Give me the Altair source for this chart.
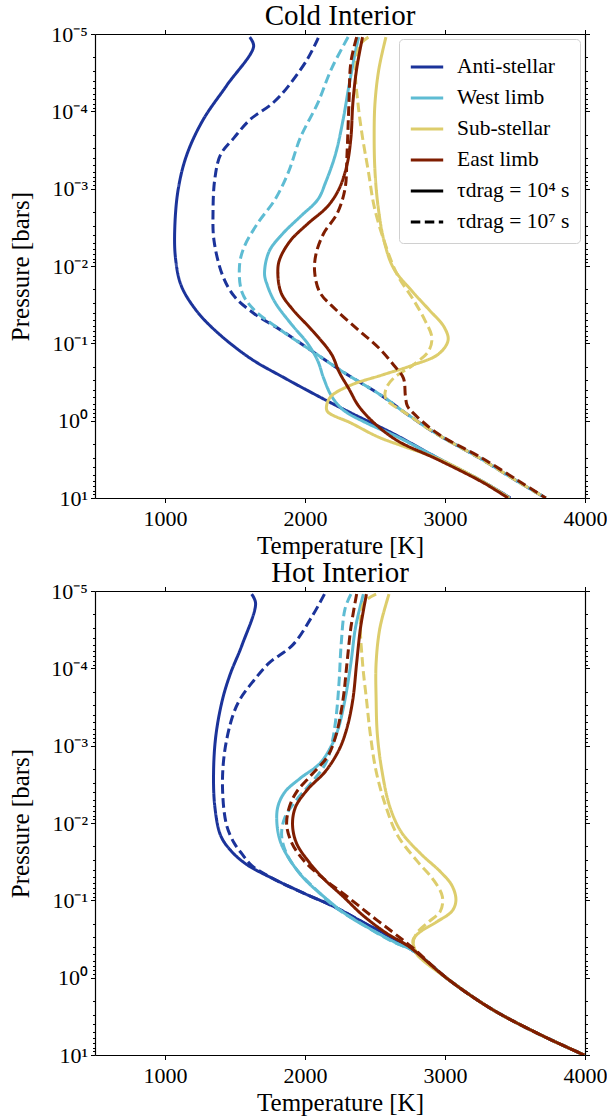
import altair as alt
import pandas as pd

REGIONS = ["Anti-stellar", "West limb", "Sub-stellar", "East limb"]
COLORS = ["#1b339a", "#5ebcd3", "#ddcd6c", "#7f1d00"]
TAU4 = "τdrag = 10⁴ s"
TAU7 = "τdrag = 10⁷ s"
DASHED_KEYS = [r + " (10⁷ s)" for r in REGIONS]

# ---------------- Cold interior (temperature K, log10 pressure bars) ----------------
cold_anti_solid_T = [1605, 1633, 1439, 1272, 1156, 1095, 1070, 1075, 1115, 1217, 1356, 1606, 1856, 2133, 2328, 2633, 2945, 3272, 3467]
cold_anti_solid_logp = [-4.96, -4.84, -4.33, -3.89, -3.44, -3.0, -2.5, -2.10, -1.75, -1.44, -1.17, -0.81, -0.55, -0.28, -0.10, 0.17, 0.48, 0.79, 1.0]
cold_anti_dash_T = [2095, 2022, 1883, 1772, 1606, 1494, 1397, 1356, 1343, 1350, 1411, 1494, 1633, 1828, 2050, 2272, 2550, 2717, 2939, 3244, 3522, 3720]
cold_anti_dash_logp = [-4.95, -4.69, -4.33, -4.11, -3.89, -3.66, -3.44, -3.13, -2.70, -2.33, -1.88, -1.61, -1.39, -1.17, -0.90, -0.63, -0.32, -0.10, 0.17, 0.48, 0.79, 1.0]

cold_west_solid_T = [2383, 2361, 2314, 2272, 2217, 2147, 2092, 1967, 1842, 1744, 1711, 1731, 1786, 1897, 2022, 2092, 2133, 2189, 2272, 2439, 2661, 2945, 3272, 3460]
cold_west_solid_logp = [-4.96, -4.78, -4.33, -3.89, -3.44, -3.08, -2.86, -2.64, -2.42, -2.19, -1.90, -1.75, -1.53, -1.26, -0.99, -0.77, -0.55, -0.32, -0.14, 0.03, 0.21, 0.48, 0.79, 1.0]
cold_west_dash_T = [2308, 2189, 2092, 1967, 1883, 1786, 1661, 1564, 1532, 1550, 1633, 1828, 2050, 2272, 2550, 2717, 2939, 3244, 3522, 3720]
cold_west_dash_logp = [-4.96, -4.55, -4.11, -3.66, -3.22, -2.86, -2.55, -2.24, -2.00, -1.66, -1.44, -1.17, -0.90, -0.63, -0.32, -0.10, 0.17, 0.48, 0.79, 1.0]

cold_sub_solid_T = [2578, 2528, 2500, 2494, 2500, 2522, 2564, 2633, 2772, 2883, 2994, 3022, 2953, 2772, 2550, 2328, 2189, 2156, 2160, 2328, 2522, 2700, 2960, 3272, 3460]
cold_sub_solid_logp = [-4.96, -4.55, -4.11, -3.66, -3.22, -2.77, -2.33, -1.97, -1.66, -1.44, -1.21, -1.04, -0.86, -0.72, -0.59, -0.46, -0.32, -0.21, -0.12, 0.03, 0.21, 0.33, 0.50, 0.79, 1.0]
cold_sub_dash_T = [2453, 2397, 2361, 2378, 2411, 2453, 2494, 2564, 2661, 2772, 2856, 2906, 2883, 2772, 2633, 2578, 2578, 2717, 2939, 3244, 3522, 3720]
cold_sub_dash_logp = [-4.96, -4.87, -4.55, -4.11, -3.66, -3.22, -2.77, -2.33, -1.88, -1.57, -1.30, -1.08, -0.90, -0.72, -0.55, -0.41, -0.28, -0.10, 0.17, 0.48, 0.79, 1.0]

cold_east_solid_T = [2411, 2369, 2342, 2328, 2300, 2244, 2161, 2022, 1897, 1822, 1806, 1828, 1911, 2050, 2189, 2244, 2314, 2383, 2494, 2661, 2945, 3272, 3450]
cold_east_solid_logp = [-4.96, -4.55, -4.11, -3.66, -3.31, -3.0, -2.77, -2.55, -2.33, -2.10, -1.95, -1.66, -1.44, -1.17, -0.86, -0.63, -0.41, -0.19, 0.03, 0.26, 0.50, 0.80, 1.0]
cold_east_dash_T = [2369, 2328, 2314, 2300, 2286, 2230, 2133, 2078, 2069, 2106, 2217, 2383, 2522, 2633, 2703, 2717, 2731, 2772, 2950, 3260, 3535, 3720]
cold_east_dash_logp = [-4.96, -4.64, -4.11, -3.44, -3.0, -2.68, -2.42, -2.15, -1.92, -1.66, -1.44, -1.17, -0.95, -0.72, -0.55, -0.32, -0.19, -0.10, 0.17, 0.48, 0.79, 1.0]

# ---------------- Hot interior ----------------
hot_anti_solid_T = [1619, 1647, 1550, 1467, 1411, 1364, 1347, 1356, 1397, 1467, 1578, 1772, 1994, 2217, 2411, 2606, 2772, 3022, 3328, 3661, 3994]
hot_anti_solid_logp = [-4.96, -4.84, -4.30, -3.93, -3.60, -3.14, -2.67, -2.21, -1.84, -1.65, -1.47, -1.28, -1.09, -0.91, -0.72, -0.53, -0.35, 0.02, 0.40, 0.72, 1.0]
hot_anti_dash_T = [2139, 2050, 1911, 1744, 1633, 1536, 1481, 1425, 1411, 1439, 1494, 1550, 1620, 1772, 1994, 2217, 2411, 2606, 2772, 3022, 3328, 3661, 3994]
hot_anti_dash_logp = [-4.96, -4.67, -4.30, -4.07, -3.84, -3.60, -3.37, -2.91, -2.44, -1.98, -1.74, -1.60, -1.45, -1.28, -1.09, -0.91, -0.72, -0.53, -0.35, 0.02, 0.40, 0.72, 1.0]

hot_west_solid_T = [2417, 2361, 2328, 2286, 2239, 2189, 2106, 1967, 1856, 1806, 1800, 1828, 1897, 1994, 2133, 2300, 2467, 2661, 2772, 3022, 3328, 3661, 3994]
hot_west_solid_logp = [-4.96, -4.53, -4.07, -3.60, -3.23, -3.0, -2.77, -2.58, -2.40, -2.21, -1.98, -1.74, -1.51, -1.28, -1.05, -0.81, -0.63, -0.44, -0.35, 0.02, 0.40, 0.72, 1.0]
hot_west_dash_T = [2328, 2286, 2258, 2244, 2222, 2189, 2147, 2050, 1939, 1856, 1833, 1869, 1953, 2078, 2217, 2400, 2620, 2772, 3022, 3328, 3661, 3994]
hot_west_dash_logp = [-4.96, -4.77, -4.30, -3.84, -3.37, -3.0, -2.77, -2.53, -2.30, -2.07, -1.84, -1.60, -1.37, -1.14, -0.91, -0.70, -0.47, -0.35, 0.02, 0.40, 0.72, 1.0]

hot_sub_solid_T = [2600, 2536, 2508, 2508, 2517, 2550, 2606, 2689, 2828, 2967, 3050, 3078, 3050, 2939, 2814, 2772, 2778, 2800, 3022, 3328, 3661, 3994]
hot_sub_solid_logp = [-4.96, -4.53, -4.07, -3.60, -3.14, -2.67, -2.21, -1.88, -1.60, -1.37, -1.19, -1.0, -0.86, -0.72, -0.58, -0.49, -0.40, -0.30, 0.02, 0.40, 0.72, 1.0]
hot_sub_dash_T = [2508, 2425, 2397, 2411, 2439, 2467, 2508, 2578, 2661, 2800, 2911, 2981, 2967, 2883, 2800, 2772, 2789, 3022, 3328, 3661, 3994]
hot_sub_dash_logp = [-4.96, -4.86, -4.63, -4.07, -3.60, -3.14, -2.67, -2.21, -1.84, -1.51, -1.28, -1.05, -0.86, -0.72, -0.58, -0.44, -0.35, 0.02, 0.40, 0.72, 1.0]

hot_east_solid_T = [2439, 2397, 2369, 2342, 2300, 2244, 2147, 2022, 1933, 1911, 1939, 2022, 2133, 2272, 2411, 2578, 2744, 3022, 3328, 3661, 3994]
hot_east_solid_logp = [-4.96, -4.53, -4.07, -3.60, -3.23, -2.95, -2.67, -2.44, -2.21, -1.98, -1.74, -1.51, -1.28, -1.05, -0.81, -0.58, -0.40, 0.02, 0.40, 0.72, 1.0]
hot_east_dash_T = [2369, 2328, 2300, 2272, 2222, 2161, 2050, 1939, 1889, 1869, 1906, 1994, 2133, 2300, 2467, 2633, 2760, 3022, 3328, 3661, 3994]
hot_east_dash_logp = [-4.96, -4.53, -4.07, -3.60, -3.14, -2.86, -2.63, -2.40, -2.21, -1.98, -1.74, -1.51, -1.28, -1.05, -0.81, -0.58, -0.40, 0.02, 0.40, 0.72, 1.0]

PANELS = {
    "cold": {
        "Anti-stellar": [(cold_anti_solid_T, cold_anti_solid_logp), (cold_anti_dash_T, cold_anti_dash_logp)],
        "West limb": [(cold_west_solid_T, cold_west_solid_logp), (cold_west_dash_T, cold_west_dash_logp)],
        "Sub-stellar": [(cold_sub_solid_T, cold_sub_solid_logp), (cold_sub_dash_T, cold_sub_dash_logp)],
        "East limb": [(cold_east_solid_T, cold_east_solid_logp), (cold_east_dash_T, cold_east_dash_logp)],
    },
    "hot": {
        "Anti-stellar": [(hot_anti_solid_T, hot_anti_solid_logp), (hot_anti_dash_T, hot_anti_dash_logp)],
        "West limb": [(hot_west_solid_T, hot_west_solid_logp), (hot_west_dash_T, hot_west_dash_logp)],
        "Sub-stellar": [(hot_sub_solid_T, hot_sub_solid_logp), (hot_sub_dash_T, hot_sub_dash_logp)],
        "East limb": [(hot_east_solid_T, hot_east_solid_logp), (hot_east_dash_T, hot_east_dash_logp)],
    },
}

DRAW_ORDER = ["Anti-stellar", "West limb", "Sub-stellar", "East limb"]


def build_df(panel):
    rows = []
    for region in DRAW_ORDER:
        for k, (Ts, lps) in enumerate(PANELS[panel][region]):
            key = region if k == 0 else region + " (10⁷ s)"
            for i, (t, lp) in enumerate(zip(Ts, lps)):
                rows.append({"key": key, "i": i, "T": t, "P": 10 ** lp})
    return pd.DataFrame(rows)


domain = REGIONS + [TAU4, TAU7] + DASHED_KEYS
color_range = COLORS + ["black", "black"] + COLORS
dash_range = [[1, 0]] * 5 + [[9.5, 4.5]] * 5

FONT = "Liberation Serif"

y_vals = [m * 10.0 ** e for e in range(-5, 1) for m in range(1, 10)] + [10.0]
is_decade = "abs(log(datum.value)/LN10 - round(log(datum.value)/LN10)) < 0.001"
label_expr = (is_decade + " ? ['10⁻⁵','10⁻⁴','10⁻³','10⁻²','10⁻¹','10⁰','10¹']"
              "[round(log(datum.value)/LN10)+5] : ''")
tick_size = {"condition": {"test": is_decade, "value": 4.5}, "value": 2.5}
X_TICKS = [1000, 2000, 3000, 4000]

x_scale = alt.Scale(domain=[500, 4000], nice=False, zero=False)
y_scale = alt.Scale(type="log", domain=[1e-5, 10], reverse=True, nice=False)


def panel_chart(panel, title, show_legend):
    df = build_df(panel)
    legend = None
    if show_legend:
        legend = alt.Legend(
            title=None, values=REGIONS + [TAU4, TAU7], orient="top-right", offset=5,
            fillColor="white", strokeColor="#d0d0d0", cornerRadius=4, padding=10,
            labelFont=FONT, labelFontSize=21.5, labelColor="black", labelOffset=12,
            symbolType="stroke", symbolSize=1050, symbolStrokeWidth=3.2, rowPadding=2,
            labelLimit=300,
        )
    base = alt.Chart(df)
    lines = base.mark_line(strokeWidth=3, interpolate="catmull-rom", clip=True).encode(
        x=alt.X("T:Q", scale=x_scale,
                axis=alt.Axis(values=X_TICKS, format="d", title="Temperature [K]",
                              labelFlush=False, labelOverlap=False, labelPadding=6, titlePadding=4)),
        y=alt.Y("P:Q", scale=y_scale,
                axis=alt.Axis(values=y_vals, labelExpr=label_expr, title="Pressure [bars]",
                              tickSize=tick_size, labelOverlap=False, labelFlush=False,
                              labelPadding=3, minExtent=56, titlePadding=6)),
        color=alt.Color("key:N", scale=alt.Scale(domain=domain, range=color_range), legend=legend),
        strokeDash=alt.StrokeDash("key:N", scale=alt.Scale(domain=domain, range=dash_range), legend=legend),
        order=alt.Order("i:Q"),
    )
    ghost = base.mark_point(opacity=0, size=1).encode(
        x=alt.X("T:Q", scale=x_scale,
                axis=alt.Axis(orient="top", values=X_TICKS, labels=False, title=None)),
        y=alt.Y("P:Q", scale=y_scale,
                axis=alt.Axis(orient="right", values=y_vals, labels=False, title=None,
                              tickSize=tick_size, minExtent=0)),
    )
    return alt.layer(lines, ghost).resolve_axis(x="independent", y="independent").properties(
        width=490, height=464, title=alt.TitleParams(title)
    )


top = panel_chart("cold", "Cold Interior", True)
bottom = panel_chart("hot", "Hot Interior", False)

chart = (
    alt.vconcat(top, bottom, spacing=0)
    .resolve_scale(color="independent", strokeDash="independent")
    .configure(font=FONT, padding={"left": 8, "top": 2, "right": 0, "bottom": 0})
    .configure_view(stroke=None)
    .configure_axis(
        labelFont=FONT, titleFont=FONT, labelFontSize=22, titleFontSize=25,
        titleFontWeight="normal", labelColor="black", titleColor="black",
        domainColor="black", tickColor="black", domainWidth=1.2, tickWidth=1,
        grid=False, tickSize=4.5, labelPadding=4, titlePadding=6,
    )
    .configure_title(font=FONT, fontSize=29, fontWeight="normal", color="black", offset=-8, anchor="middle")
)

chart.save("out.html", embed_options={"renderer": "svg", "actions": False})
